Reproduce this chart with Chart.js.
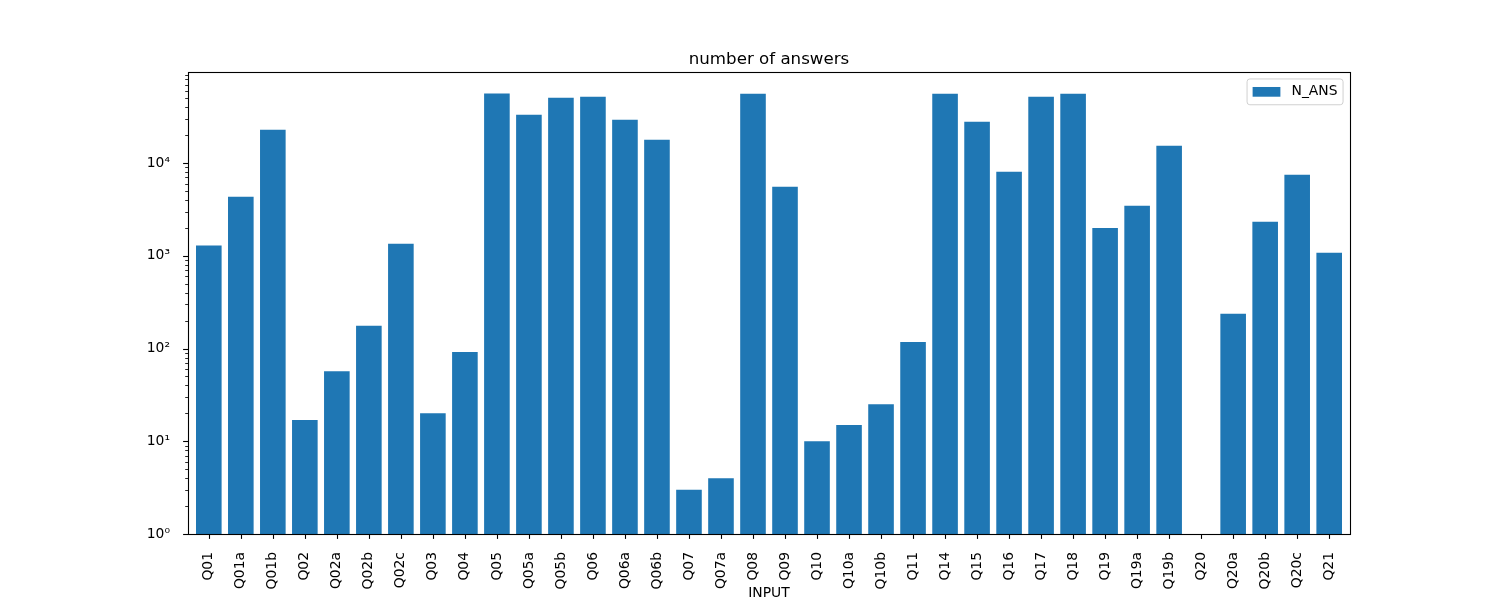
<!DOCTYPE html>
<html>
<head>
<meta charset="utf-8">
<script src="https://cdn.jsdelivr.net/npm/chart.js@4.4.1/dist/chart.umd.min.js"></script>
<style>
  html, body { margin: 0; padding: 0; background: #fff; }
  #wrap { width: 1500px; height: 600px; }
</style>
</head>
<body>
<div id="wrap"><canvas id="c" width="1500" height="600"></canvas></div>
<script>
const categories = ['Q01','Q01a','Q01b','Q02','Q02a','Q02b','Q02c','Q03','Q04','Q05','Q05a','Q05b','Q06','Q06a','Q06b','Q07','Q07a','Q08','Q09','Q10','Q10a','Q10b','Q11','Q14','Q15','Q16','Q17','Q18','Q19','Q19a','Q19b','Q20','Q20a','Q20b','Q20c','Q21'];
const nAns = [1290, 4330, 22900, 17, 57, 176, 1350, 20, 92, 56400, 33300, 50700, 52000, 29300, 17800, 3, 4, 56000, 5560, 10, 15, 25, 118, 56000, 27900, 8060, 52000, 56000, 2000, 3460, 15400, 0, 237, 2330, 7480, 1080];
const yTicks = [1, 10, 100, 1000, 10000];
const seriesLabel = 'N_ANS';
const chartTitle = 'number of answers';
const xTitle = 'INPUT';

const FONT = '"DejaVu Sans", "Liberation Sans", sans-serif';
const FS = 13.89;
const BAR = '#1f77b4';
const SUP = '⁰¹²³⁴⁵⁶⁷⁸⁹';
const toSup = n => String(n).split('').map(d => SUP[+d]).join('');

const decorations = {
  id: 'decorations',
  afterDatasetsDraw(chart) {
    const { ctx, chartArea: a, scales: { x, y } } = chart;
    ctx.save();
    ctx.strokeStyle = '#000';
    // minor y ticks
    ctx.lineWidth = 0.83;
    yTicks.forEach(t => {
      for (let m = 2; m <= 9; m++) {
        const v = t * m;
        if (v > y.max) continue;
        const py = Math.round(y.getPixelForValue(v)) + 0.5;
        ctx.beginPath(); ctx.moveTo(a.left - 2.8, py); ctx.lineTo(a.left, py); ctx.stroke();
      }
    });
    // major y ticks
    ctx.lineWidth = 1.1;
    yTicks.forEach(t => {
      const py = Math.round(y.getPixelForValue(t)) + 0.5;
      ctx.beginPath(); ctx.moveTo(a.left - 4.9, py); ctx.lineTo(a.left, py); ctx.stroke();
    });
    // x ticks
    categories.forEach((c, i) => {
      const px = Math.round(x.getPixelForValue(i)) + 0.5;
      ctx.beginPath(); ctx.moveTo(px, a.bottom); ctx.lineTo(px, a.bottom + 4.9); ctx.stroke();
    });
    // frame
    ctx.strokeRect(Math.round(a.left) + 0.5, Math.round(a.top) + 0.5, Math.round(a.width), Math.round(a.height));

    // legend (inside axes, upper right)
    const ds = chart.data.datasets[0];
    ctx.font = FS + 'px ' + FONT;
    const tw = ctx.measureText(ds.label).width;
    const pad = 0.4 * FS, hw = 2 * FS, hh = 0.7 * FS, gap = 0.8 * FS, axpad = 0.5 * FS;
    const bw = pad + hw + gap + tw + pad;
    const bh = 2 * pad + FS * 1.0 + 0.8;
    const bx = a.right - axpad - bw;
    const by = a.top + axpad;
    const r = 2.8;
    ctx.beginPath();
    ctx.moveTo(bx + r, by);
    ctx.lineTo(bx + bw - r, by); ctx.quadraticCurveTo(bx + bw, by, bx + bw, by + r);
    ctx.lineTo(bx + bw, by + bh - r); ctx.quadraticCurveTo(bx + bw, by + bh, bx + bw - r, by + bh);
    ctx.lineTo(bx + r, by + bh); ctx.quadraticCurveTo(bx, by + bh, bx, by + bh - r);
    ctx.lineTo(bx, by + r); ctx.quadraticCurveTo(bx, by, bx + r, by);
    ctx.closePath();
    ctx.fillStyle = 'rgba(255,255,255,0.8)';
    ctx.fill();
    ctx.strokeStyle = '#d0d0d0';
    ctx.lineWidth = 1;
    ctx.stroke();
    const cy = by + bh / 2;
    ctx.fillStyle = ds.backgroundColor;
    ctx.fillRect(bx + pad, cy - hh / 2, hw, hh);
    ctx.fillStyle = '#000';
    ctx.textBaseline = 'middle';
    ctx.textAlign = 'left';
    ctx.fillText(ds.label, bx + pad + hw + gap, cy);
    ctx.restore();
  }
};

new Chart(document.getElementById('c'), {
  type: 'bar',
  data: {
    datasets: [{
      label: seriesLabel,
      data: categories.map((c, i) => ({ x: i, y: nAns[i] })),
      backgroundColor: BAR,
      borderWidth: 0,
      barPercentage: 0.8,
      categoryPercentage: 1.0
    }]
  },
  options: {
    responsive: false,
    animation: false,
    devicePixelRatio: 1,
    layout: { padding: { left: 128, right: 150, top: 0, bottom: 0 } },
    plugins: {
      legend: { display: false },
      tooltip: { enabled: false },
      title: {
        display: true,
        fullSize: false,
        text: chartTitle,
        color: '#000',
        font: { family: FONT, size: 16.67, weight: 'normal', lineHeight: 1.2 },
        padding: { top: 50, bottom: 2 }
      }
    },
    scales: {
      x: {
        type: 'linear',
        min: -0.65,
        max: categories.length - 1 + 0.65,
        offset: false,
        grid: { display: false },
        border: { display: false },
        afterBuildTicks: s => { s.ticks = categories.map((c, i) => ({ value: i })); },
        afterFit: s => { s.height = 66; },
        ticks: {
          autoSkip: false,
          minRotation: 90,
          maxRotation: 90,
          padding: 10,
          color: '#000',
          font: { family: FONT, size: FS },
          callback: v => categories[v] ?? ''
        },
        title: {
          display: true,
          text: xTitle,
          color: '#000',
          font: { family: FONT, size: FS, lineHeight: 1.0 },
          padding: { top: 0, bottom: 0 }
        }
      },
      y: {
        type: 'logarithmic',
        min: 1,
        max: 96000,
        grid: { display: false },
        border: { display: false },
        afterBuildTicks: s => { s.ticks = yTicks.map(v => ({ value: v })); },
        afterFit: s => { s.width = 60; },
        ticks: {
          padding: 10,
          color: '#000',
          font: { family: FONT, size: FS },
          callback: v => '10' + toSup(Math.round(Math.log10(v)))
        }
      }
    }
  },
  plugins: [decorations]
});
</script>
</body>
</html>
